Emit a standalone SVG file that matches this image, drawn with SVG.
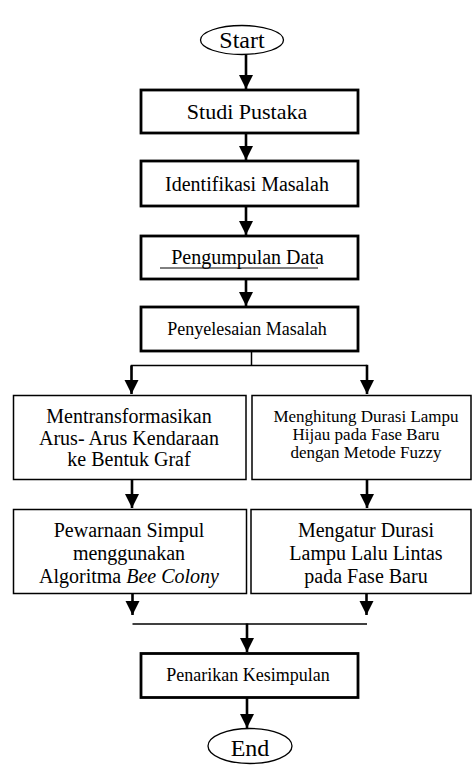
<svg xmlns="http://www.w3.org/2000/svg" width="473" height="766" viewBox="0 0 473 766">
<style>
.t{font-family:'Liberation Serif','Times New Roman',serif;fill:#000;text-anchor:middle}
.thick{fill:#fff;stroke:#000;stroke-width:2.8}
.thin{fill:#fff;stroke:#000;stroke-width:1.5}
.sh{stroke:#000;stroke-width:2.6;fill:none}
.ln{stroke:#000;stroke-width:1.5;fill:none}
</style>
<defs>
<marker id="ah" markerUnits="userSpaceOnUse" markerWidth="16" markerHeight="18" refX="14" refY="7" orient="auto">
<path d="M0,0 L14,7 L0,14 Z" fill="#000"/>
</marker>
</defs>
<rect width="473" height="766" fill="#fff"/>
<g id="connectors">
<line class="sh" x1="246" y1="54" x2="246" y2="89" marker-end="url(#ah)"/>
<line class="sh" x1="246" y1="133" x2="246" y2="160" marker-end="url(#ah)"/>
<line class="sh" x1="246" y1="206" x2="246" y2="235" marker-end="url(#ah)"/>
<line class="sh" x1="246" y1="279" x2="246" y2="306" marker-end="url(#ah)"/>
<line class="ln" x1="251.5" y1="351" x2="251.5" y2="365.5"/>
<polyline class="ln" points="131.5,370 131.5,365.5 367,365.5"/>
<line class="sh" x1="131.5" y1="365.5" x2="131.5" y2="394" marker-end="url(#ah)"/>
<line class="sh" x1="367" y1="364.8" x2="367" y2="394" marker-end="url(#ah)"/>
<line class="sh" x1="132" y1="479" x2="132" y2="508" marker-end="url(#ah)"/>
<line class="sh" x1="367" y1="479" x2="367" y2="508" marker-end="url(#ah)"/>
<line class="sh" x1="132.5" y1="593" x2="132.5" y2="615" marker-end="url(#ah)"/>
<line class="sh" x1="366.5" y1="593" x2="366.5" y2="615" marker-end="url(#ah)"/>
<line class="ln" x1="132.5" y1="624" x2="367" y2="624"/>
<line class="sh" x1="247" y1="623.5" x2="247" y2="652" marker-end="url(#ah)"/>
<line class="sh" x1="247" y1="697" x2="247" y2="728" marker-end="url(#ah)"/>
</g>
<g id="start">
<ellipse cx="242" cy="40" rx="41.5" ry="14.5" fill="#fff" stroke="#000" stroke-width="1.3"/>
<text class="t" x="242" y="48" font-size="24">Start</text>
</g>
<g id="studi-pustaka">
<rect class="thick" x="141" y="90" width="217" height="43"/>
<text class="t" x="247" y="119" font-size="22">Studi Pustaka</text>
</g>
<g id="identifikasi-masalah">
<rect class="thick" x="141" y="161" width="217" height="45"/>
<text class="t" x="247" y="190.5" font-size="20">Identifikasi Masalah</text>
</g>
<g id="pengumpulan-data">
<rect class="thick" x="141" y="236" width="217" height="43"/>
<text class="t" x="247.5" y="263.5" font-size="20">Pengumpulan Data</text>
<line x1="160" y1="268" x2="318" y2="268" stroke="#000" stroke-width="1"/>
</g>
<g id="penyelesaian-masalah">
<rect class="thick" x="141" y="307" width="217" height="44"/>
<text class="t" x="247" y="335" font-size="18">Penyelesaian Masalah</text>
</g>
<g id="mentransformasikan">
<rect class="thin" x="13.5" y="395.5" width="232.5" height="84"/>
<text class="t" x="129" y="423" font-size="20">Mentransformasikan</text>
<text class="t" x="129" y="444.5" font-size="20">Arus- Arus Kendaraan</text>
<text class="t" x="129" y="466" font-size="20">ke Bentuk Graf</text>
</g>
<g id="menghitung-durasi">
<rect class="thin" x="252" y="395.5" width="219" height="84"/>
<text class="t" x="366" y="422" font-size="17">Menghitung Durasi Lampu</text>
<text class="t" x="366" y="440" font-size="17">Hijau pada Fase Baru</text>
<text class="t" x="366" y="458" font-size="17">dengan Metode Fuzzy</text>
</g>
<g id="pewarnaan-simpul">
<rect class="thin" x="13.5" y="509.5" width="233" height="84"/>
<text class="t" x="129" y="537" font-size="20">Pewarnaan Simpul</text>
<text class="t" x="129" y="560" font-size="20">menggunakan</text>
<text class="t" x="129" y="583" font-size="20">Algoritma <tspan font-style="italic">Bee Colony</tspan></text>
</g>
<g id="mengatur-durasi">
<rect class="thin" x="251" y="509.5" width="220" height="84"/>
<text class="t" x="366" y="537" font-size="20">Mengatur Durasi</text>
<text class="t" x="366" y="560" font-size="20">Lampu Lalu Lintas</text>
<text class="t" x="366" y="583" font-size="20">pada Fase Baru</text>
</g>
<g id="penarikan-kesimpulan">
<rect class="thick" x="141" y="653.5" width="217" height="44"/>
<text class="t" x="248" y="681" font-size="18">Penarikan Kesimpulan</text>
</g>
<g id="end">
<ellipse cx="250" cy="746" rx="42" ry="17.5" fill="#fff" stroke="#000" stroke-width="1.3"/>
<text class="t" x="250" y="756" font-size="24">End</text>
</g>
</svg>
